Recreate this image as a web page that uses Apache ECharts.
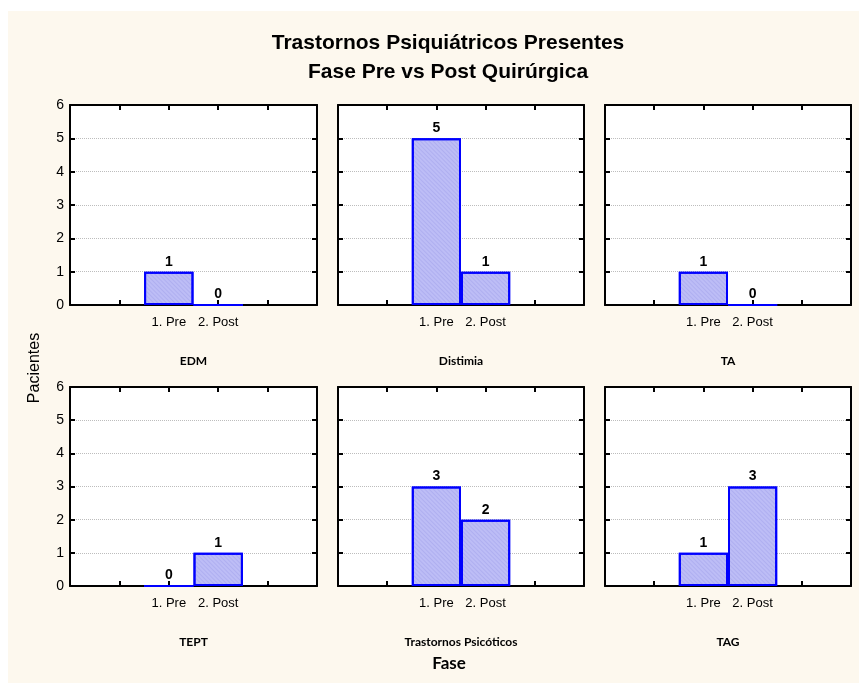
<!DOCTYPE html>
<html>
<head>
<meta charset="utf-8">
<script src="https://cdn.jsdelivr.net/npm/echarts@6/dist/echarts.min.js"></script>
<style>
html,body{margin:0;padding:0;background:#ffffff;}
#c{width:859px;height:685px;}
</style>
</head>
<body>
<div id="c"></div>
<script>
// ---- Data ----
const titleLines = ['Trastornos Psiquiátricos Presentes', 'Fase Pre vs Post Quirúrgica'];
const phases = ['1. Pre', '2. Post'];
const panelNames = ['EDM', 'Distimia', 'TA', 'TEPT', 'Trastornos Psicóticos', 'TAG'];
const edm = [1, 0];
const distimia = [5, 1];
const ta = [1, 0];
const tept = [0, 1];
const psicoticos = [3, 2];
const tag = [1, 3];
const panelValues = [edm, distimia, ta, tept, psicoticos, tag];
const yTicks = [0, 1, 2, 3, 4, 5, 6];
const xAxisName = 'Fase';
const yAxisName = 'Pacientes';

// ---- Layout ----
const colLeft = [70, 338, 605];
const colWidth = [247, 246, 246];
const rowTop = [105, 387];
const rowHeight = [200, 199];

// padded category axis: 2 empty slots, Pre, Post, 2 empty slots (boundaryGap false)
const cats = ['', ''].concat(phases, ['', '']);

const grids = [], xAxes = [], yAxes = [], series = [], graphics = [];

graphics.push({type:'rect', left:8, top:11, shape:{width:851, height:672}, style:{fill:'#FDF8EE'}, z:-10});

panelValues.forEach((vals, i) => {
  const r = Math.floor(i / 3), c = i % 3;
  grids.push({
    left: colLeft[c], top: rowTop[r], width: colWidth[c], height: rowHeight[r],
    show: true, backgroundColor: '#ffffff', borderColor: '#000000', borderWidth: 0
  });
  const xBase = {
    type: 'category', gridIndex: i, data: cats, boundaryGap: false,
    axisLine: {show: true, onZero: false, lineStyle: {color: '#000', width: 2}},
    axisTick: {show: true, inside: true, length: 5, interval: 0, lineStyle: {color: '#000', width: 2}},
    splitLine: {show: false}
  };
  xAxes.push(Object.assign({}, xBase, {
    position: 'bottom',
    axisLabel: {show: true, interval: 0, margin: 11, fontFamily: 'Liberation Sans, Arial', fontSize: 13, color: '#000'}
  }));
  xAxes.push(Object.assign({}, xBase, {position: 'top', axisLabel: {show: false}}));
  const yBase = {
    type: 'value', gridIndex: i, min: yTicks[0], max: yTicks[yTicks.length - 1], interval: 1,
    axisLine: {show: true, onZero: false, lineStyle: {color: '#000', width: 2}},
    axisTick: {show: true, inside: true, length: 5, lineStyle: {color: '#000', width: 2}}
  };
  yAxes.push(Object.assign({}, yBase, {
    position: 'left',
    axisLabel: {show: c === 0, margin: 6, fontFamily: 'Liberation Sans, Arial', fontSize: 14, color: '#000'},
    splitLine: {show: true, lineStyle: {color: '#bdbdbd', type: 'dotted', width: 1}}
  }));
  yAxes.push(Object.assign({}, yBase, {position: 'right', axisLabel: {show: false}, splitLine: {show: false}}));

  const data = cats.map(() => null);
  vals.forEach((v, k) => { data[2 + k] = v; });
  series.push({
    type: 'bar', xAxisIndex: 2 * i, yAxisIndex: 2 * i, data: data,
    barWidth: '100%', barGap: '0%',
    itemStyle: {color: '#BDBDF6', borderColor: '#0000FF', borderWidth: 2,
      decal: {symbol: 'rect', dashArrayX: [1, 0], dashArrayY: [1, 2], rotation: Math.PI / 4, color: 'rgba(150,150,230,0.35)', symbolSize: 1}},
    label: {show: true, position: 'top', distance: 3, fontFamily: 'Liberation Sans, Arial', fontWeight: 'bold', fontSize: 14, color: '#000'},
    animation: false, silent: true
  });

  graphics.push({
    type: 'text',
    x: colLeft[c] + colWidth[c] / 2, y: rowTop[r] + rowHeight[r] + 56,
    style: {text: panelNames[i], font: 'bold 12px Lato, "Open Sans", sans-serif', fill: '#000', align: 'center', verticalAlign: 'middle'}
  });
});

graphics.push({type: 'text', x: 448, y: 43, style: {text: titleLines[0], font: 'bold 21px "Liberation Sans", Arial', fill: '#000', align: 'center', verticalAlign: 'middle'}});
graphics.push({type: 'text', x: 448, y: 72, style: {text: titleLines[1], font: 'bold 21px "Liberation Sans", Arial', fill: '#000', align: 'center', verticalAlign: 'middle'}});
graphics.push({type: 'text', x: 449, y: 664, style: {text: xAxisName, font: 'bold 17px Lato, "Open Sans", sans-serif', fill: '#000', align: 'center', verticalAlign: 'middle'}});
graphics.push({type: 'text', x: 35, y: 368, rotation: Math.PI / 2, style: {text: yAxisName, font: '16px "Liberation Sans", Arial', fill: '#000', align: 'center', verticalAlign: 'middle'}});

const chart = echarts.init(document.getElementById('c'), null, {renderer: 'canvas'});
chart.setOption({
  animation: false,
  backgroundColor: '#ffffff',
  grid: grids, xAxis: xAxes, yAxis: yAxes, series: series,
  graphic: graphics
});
</script>
</body>
</html>
